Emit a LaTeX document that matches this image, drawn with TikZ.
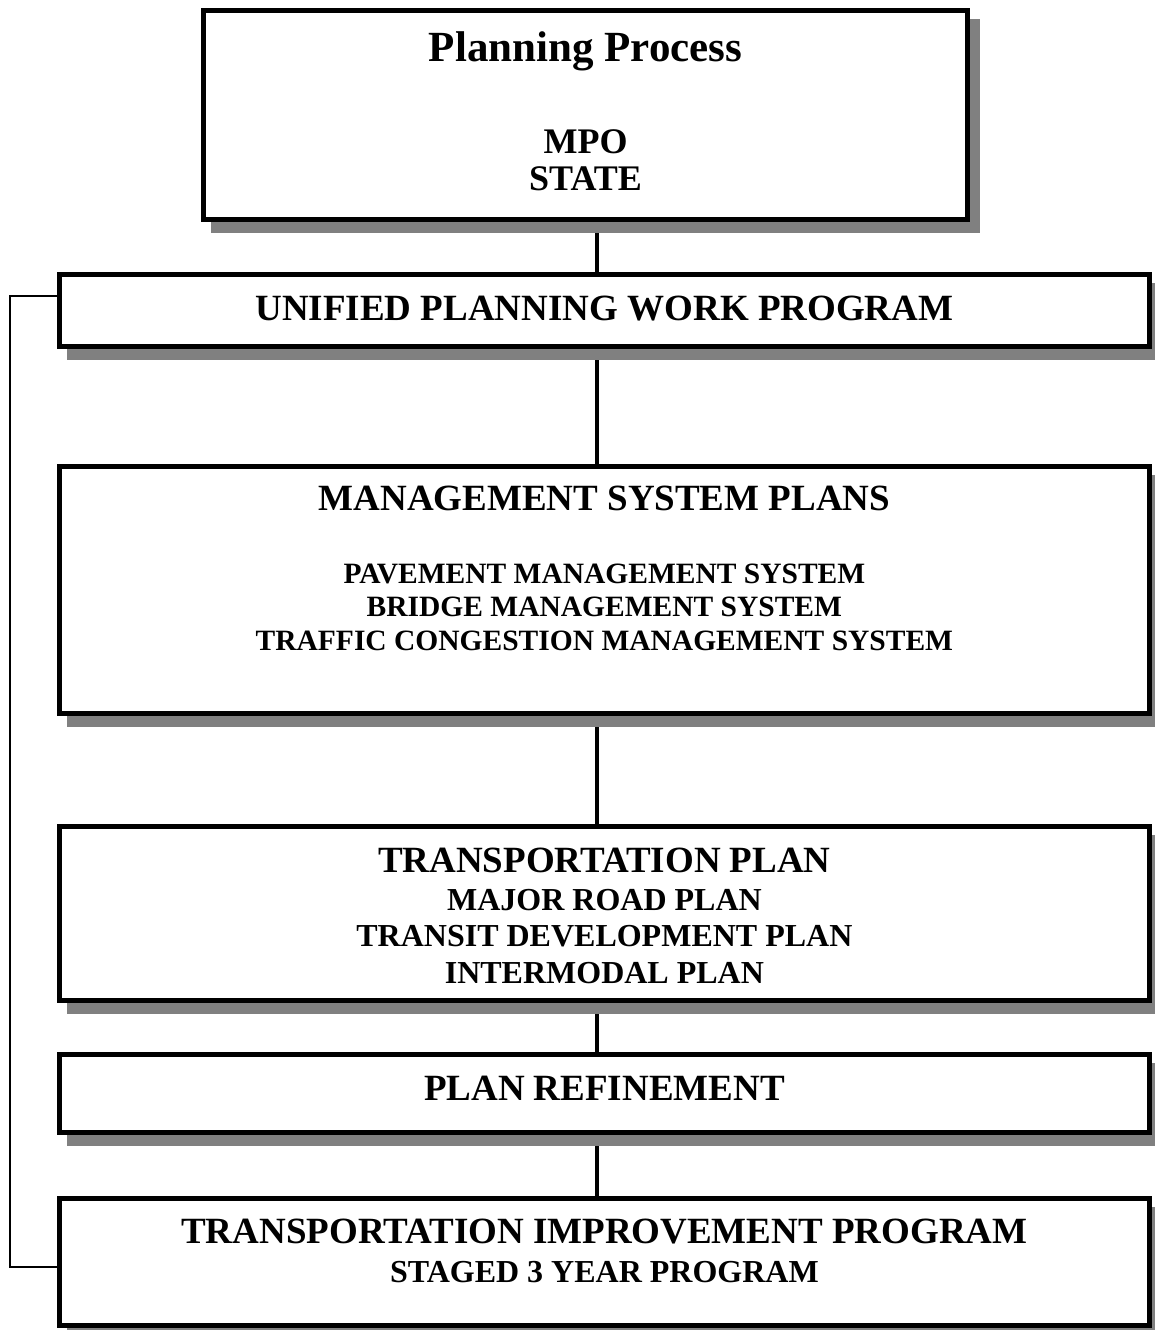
\documentclass[tikz,border=0pt]{standalone}
\usepackage{fontspec}
\setmainfont{Liberation Serif}
\usetikzlibrary{positioning,backgrounds}

\definecolor{shadowgray}{HTML}{808080}

\tikzset{
  stage/.style={draw, line width=5pt, fill=white, inner sep=0pt, outer sep=0pt,
                minimum width=1090pt,
                preaction={fill=shadowgray, draw=shadowgray,
                           transform canvas={shift={(10pt,-11pt)}}}},
  head/.style={anchor=base, font=\bfseries\fontsize{37}{40}\selectfont},
  sub/.style={anchor=base, align=center, font=\bfseries\fontsize{32}{36.5}\selectfont},
  link/.style={line width=4pt},
  backline/.style={line width=2pt}
}

\begin{document}
\begin{tikzpicture}[x=1pt,y=-1pt]
  \useasboundingbox (0,0) rectangle (1154,1330);

  % boxes
  \node[stage, minimum width=764pt, minimum height=209pt] (plan) at (585.5,115) {};
  \node[stage, minimum height=72pt]  (upwp)   at (604.4,310.4) {};
  \node[stage, minimum height=247pt] (mgmt)   at (604.4,590)   {};
  \node[stage, minimum height=174pt] (tplan)  at (604.4,913.5) {};
  \node[stage, minimum height=78pt]  (refine) at (604.4,1093.5) {};
  \node[stage, minimum height=127pt] (tip)    at (604.4,1262)  {};

  % texts (multi-line ones sit on their last line)
  \node[head, font=\bfseries\fontsize{43}{46}\selectfont] (planttl) at (plan |- 0,62) {Planning Process};
  \node[sub, font=\bfseries\fontsize{36}{37}\selectfont] (plansub) at (plan |- 0,190) {MPO\\STATE};
  \node[head] (upwpttl) at (upwp |- 0,320) {UNIFIED PLANNING WORK PROGRAM};
  \node[head] (mgmtttl) at (mgmt |- 0,510) {MANAGEMENT SYSTEM PLANS};
  \node[sub, font=\bfseries\fontsize{29.5}{33.5}\selectfont] (mgmtsub) at (mgmt |- 0,650)
       {PAVEMENT MANAGEMENT SYSTEM\\BRIDGE MANAGEMENT SYSTEM\\TRAFFIC CONGESTION MANAGEMENT SYSTEM};
  \node[head] (tplanttl) at (tplan |- 0,872) {TRANSPORTATION PLAN};
  \node[sub] (tplansub) at (tplan |- 0,983)
       {MAJOR ROAD PLAN\\TRANSIT DEVELOPMENT PLAN\\INTERMODAL PLAN};
  \node[head] (refinettl) at (refine |- 0,1100) {PLAN REFINEMENT};
  \node[head] (tipttl) at (tip |- 0,1243) {TRANSPORTATION IMPROVEMENT PROGRAM};
  \node[sub] (tipsub) at (tip |- 0,1282) {STAGED 3 YEAR PROGRAM};

  % connectors
  \coordinate (spine) at (597,0);
  \coordinate (backtop) at (9.5,295.5);
  \coordinate (backbot) at (9.5,1266.5);
  \begin{scope}[on background layer]
    \draw[link] (plan.south -| spine) -- (upwp.north -| spine);
    \draw[link] (upwp.south -| spine) -- (mgmt.north -| spine);
    \draw[link] (mgmt.south -| spine) -- (tplan.north -| spine);
    \draw[link] (tplan.south -| spine) -- (refine.north -| spine);
    \draw[link] (refine.south -| spine) -- (tip.north -| spine);
    \draw[backline] (upwp.west |- backtop) -- (backtop) -- (backbot) -- (tip.west |- backbot);
  \end{scope}
\end{tikzpicture}
\end{document}
